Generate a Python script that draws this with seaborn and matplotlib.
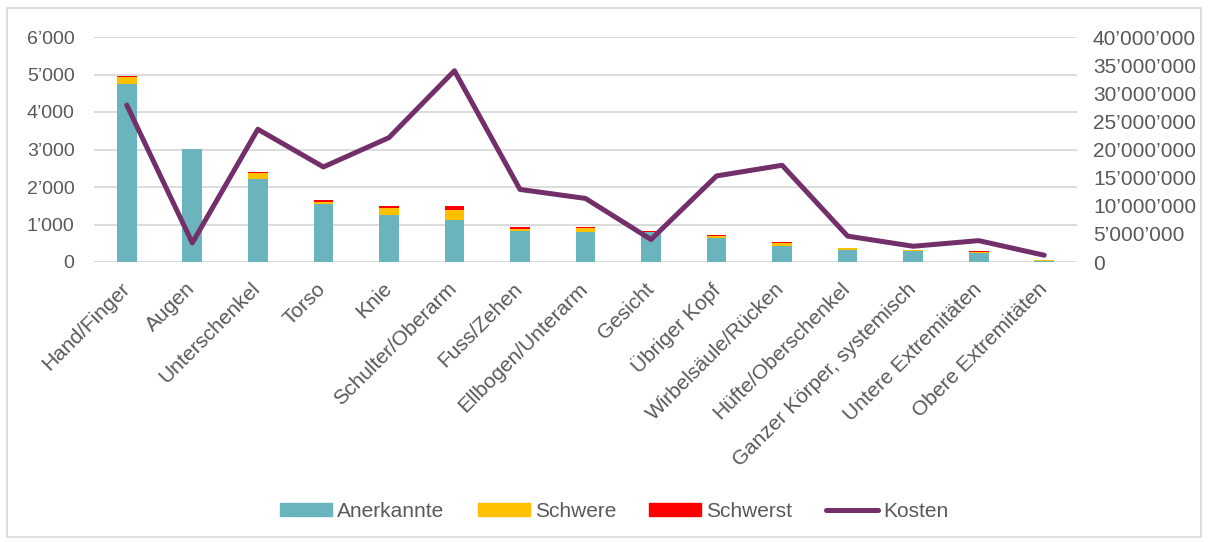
import numpy as np
import pandas as pd
import matplotlib
matplotlib.use("Agg")
import matplotlib.pyplot as plt
import seaborn as sns
from matplotlib.ticker import FuncFormatter, MultipleLocator
from matplotlib.patches import Rectangle, Patch
from matplotlib.lines import Line2D
from matplotlib.transforms import ScaledTranslation

categories = ["Hand/Finger", "Augen", "Unterschenkel", "Torso", "Knie", "Schulter/Oberarm",
              "Fuss/Zehen", "Ellbogen/Unterarm", "Gesicht", "Übriger Kopf", "Wirbelsäule/Rücken",
              "Hüfte/Oberschenkel", "Ganzer Körper, systemisch", "Untere Extremitäten",
              "Obere Extremitäten"]
anerkannte = [4740, 3005, 2210, 1555, 1260, 1120, 818, 808, 790, 648, 428, 328, 302, 240, 35]
schwere = [200, 5, 155, 45, 188, 267, 70, 107, 22, 48, 70, 35, 20, 35, 12]
schwerst = [30, 2, 43, 45, 45, 98, 37, 27, 6, 27, 35, 10, 6, 10, 5]
kosten = [27.9e6, 3.4e6, 23.6e6, 16.9e6, 22.1e6, 34.0e6, 12.9e6, 11.3e6, 4.0e6, 15.3e6,
          17.2e6, 4.6e6, 2.8e6, 3.8e6, 1.2e6]

c_teal = "#6AB4BD"
c_yel = "#FFC000"
c_red = "#FF0000"
c_pur = "#722F6A"
c_txt = "#595959"
c_grid = "#D9D9D9"

sns.set_style("white")
plt.rcParams["font.family"] = ["Liberation Sans", "DejaVu Sans"]

df = pd.DataFrame({"cat": categories, "a": anerkannte, "s": schwere, "ss": schwerst})
bottom2 = np.array(anerkannte)
bottom3 = np.array(anerkannte) + np.array(schwere)

fig = plt.figure(figsize=(12.08, 5.42), dpi=100)
ax = fig.add_axes([94 / 1208, 1 - 262 / 542, (1077 - 94) / 1208, (262 - 37) / 542])

bar_kw = dict(width=0.3, ax=ax, saturation=1, linewidth=0, edgecolor="none")
sns.barplot(data=df, x="cat", y="a", color=c_teal, **bar_kw)
sns.barplot(data=df, x="cat", y="s", color=c_yel, bottom=bottom2, **bar_kw)
sns.barplot(data=df, x="cat", y="ss", color=c_red, bottom=bottom3, **bar_kw)

ax.set_ylim(0, 6000)
ax.yaxis.set_major_locator(MultipleLocator(1000))
ax.set_xlim(-0.5, len(categories) - 0.5)
ax.set_xlabel("")
ax.set_ylabel("")
ax.grid(axis="y", color=c_grid, linewidth=1.3)
ax.set_axisbelow(True)
for sp in ax.spines.values():
    sp.set_visible(False)

fmt = lambda v, p: f"{int(round(v)):,}".replace(",", "\u2019")
ax.yaxis.set_major_formatter(FuncFormatter(fmt))
ax.tick_params(axis="y", length=0, pad=14, labelsize=14, labelcolor=c_txt)
ax.tick_params(axis="x", length=0, pad=3, labelsize=15, labelcolor=c_txt)
ax.set_xticks(range(len(categories)))
ax.set_xticklabels(categories, rotation=45, ha="right", rotation_mode="anchor")
offset = ScaledTranslation(-0.07, -0.13, fig.dpi_scale_trans)
for lab in ax.get_xticklabels():
    lab.set_transform(lab.get_transform() + offset)

ax2 = ax.twinx()
sns.lineplot(x=np.arange(len(categories)), y=kosten, ax=ax2, color=c_pur, linewidth=3.6,
             sort=False, legend=False)
ax2.set_ylim(0, 40e6)
ax2.yaxis.set_major_locator(MultipleLocator(5e6))
ax2.yaxis.set_major_formatter(FuncFormatter(fmt))
ax2.tick_params(axis="y", length=0, pad=11.5, labelsize=15, labelcolor=c_txt)
for sp in ax2.spines.values():
    sp.set_visible(False)
ax2.set_xlim(-0.5, len(categories) - 0.5)

handles = [Patch(color=c_teal), Patch(color=c_yel), Patch(color=c_red),
           Line2D([0], [0], color=c_pur, linewidth=3.6, solid_capstyle="round")]
labels = ["Anerkannte", "Schwere", "Schwerst", "Kosten"]
fig.legend(handles, labels, loc="center", bbox_to_anchor=(614 / 1208, 1 - 511.5 / 542), ncol=4,
           frameon=False, fontsize=15, labelcolor=c_txt, handlelength=2.5, handleheight=0.53,
           handletextpad=0.24, columnspacing=1.6)

fig.patches.append(Rectangle((7 / 1208, 1 - 537 / 542), (1201 - 7) / 1208, (537 - 8) / 542,
                             transform=fig.transFigure, fill=False, edgecolor="#D9D9D9",
                             linewidth=1.2))

fig.savefig("out.png", dpi=100)
